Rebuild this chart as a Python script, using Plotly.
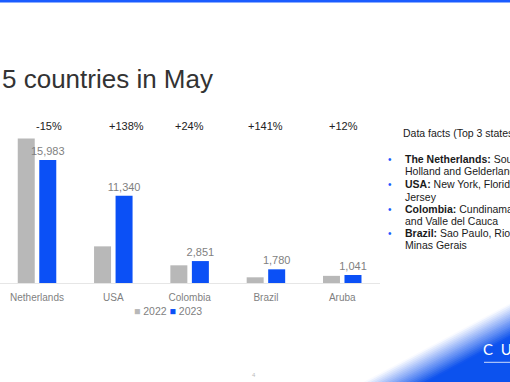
import numpy as np
import plotly.graph_objects as go

W, H = 510, 382

# ---- data ----
countries = ["Netherlands", "USA", "Colombia", "Brazil", "Aruba"]
v2022 = [18800, 4765, 2300, 740, 930]
v2023 = [15983, 11340, 2851, 1780, 1041]
changes = ["-15%", "+138%", "+24%", "+141%", "+12%"]
series_names = ["2022", "2023"]
title_text = "5 countries in May"
facts_title = "Data facts (Top 3 states)"
fact_heads = ["The Netherlands:", "USA:", "Colombia:", "Brazil:"]
fact_line1 = [" South", " New York, Florida and New", " Cundinamarca, Antioquia", " Sao Paulo, Rio de Janeiro and"]
fact_line2 = ["Holland and Gelderland", "Jersey", "and Valle del Cauca", "Minas Gerais"]
brand_text = "C&nbsp;&nbsp;U"
page_no = "4"

# ---- styles ----
GRAY = "#B8B8B8"
BLUE = "#0B50F6"
CORNER_BLUE = "#1257F6"
LABEL = "#7F7F7F"
FONT = "Liberation Sans, Arial, sans-serif"


def fx(px):
    return px / W


def fy(py):
    return 1 - py / H


fig = go.Figure()
fig.add_trace(go.Bar(x=countries, y=v2022, name=series_names[0], marker_color=GRAY,
                     marker_line_width=0, showlegend=False))
fig.add_trace(go.Bar(x=countries, y=v2023, name=series_names[1], marker_color=BLUE,
                     marker_line_width=0, showlegend=False,
                     text=[f"{v:,}" for v in v2023], textposition="outside",
                     textfont=dict(size=11, color=LABEL, family=FONT),
                     constraintext="none", cliponaxis=False))

shapes = []
annotations = []

# top blue bar
shapes.append(dict(type="rect", xref="paper", yref="paper", x0=0, x1=1, y0=fy(2.5), y1=1,
                   fillcolor="#1A5CFF", line_width=0, layer="above"))

# bottom-right blue diagonal with soft (linear) fade
p0 = np.array([427.0, 382.0])
p1 = np.array([510.0, 337.5])
d = p1 - p0
n = np.array([d[1], -d[0]]) / np.linalg.norm(d)
if n[1] > 0:
    n = -n  # toward upper-left (white)


def corner_path(t):
    a = p0 + n * t
    tb = (H + 5 - a[1]) / d[1]
    bx = a[0] + d[0] * tb
    tr = (W + 5 - a[0]) / d[0]
    ry = a[1] + d[1] * tr
    pts = [(bx, H + 5), (W + 5, ry), (W + 5, H + 5)]
    return "M " + " L ".join(f"{fx(x):.5f},{fy(y):.5f}" for x, y in pts) + " Z"


shapes.append(dict(type="path", xref="paper", yref="paper", path=corner_path(0),
                   fillcolor=CORNER_BLUE, opacity=1.0, line_width=0, layer="below"))
N, T = 18, 30.0
for k in range(1, N + 1):
    if k < N:
        op = 1 - (k - 0.5) / (k + 0.5)
    else:
        op = 0.5 / N
    shapes.append(dict(type="path", xref="paper", yref="paper", path=corner_path(k * T / N),
                       fillcolor=CORNER_BLUE, opacity=op, line_width=0, layer="below"))

# brand underline
shapes.append(dict(type="line", xref="paper", yref="paper", x0=fx(484), x1=1.02,
                   y0=fy(362.3), y1=fy(362.3), line=dict(color="rgba(255,255,255,0.8)", width=1)))

# title
annotations.append(dict(text=title_text, xref="paper", yref="paper", x=fx(0), y=fy(79),
                        xanchor="left", yanchor="middle", showarrow=False,
                        font=dict(size=26, color="#333333", family=FONT)))

# percent changes
pct_shift = [12, 13, 0, 0, 1]
for i, c in enumerate(countries):
    annotations.append(dict(text=changes[i], x=c, xref="x", y=fy(126), yref="paper",
                            xshift=pct_shift[i], showarrow=False, xanchor="center", yanchor="middle",
                            font=dict(size=11, color="#222222", family=FONT)))

# legend (drawn as text)
leg = (f"<span style='color:{GRAY}'>■</span> {series_names[0]} "
       f"<span style='color:{BLUE}'>■</span> {series_names[1]}")
annotations.append(dict(text=leg, xref="paper", yref="paper", x=fx(168), y=fy(310.7),
                        xanchor="center", yanchor="middle", showarrow=False,
                        font=dict(size=10.5, color=LABEL, family=FONT)))

# data facts panel
annotations.append(dict(text=facts_title, xref="paper", yref="paper", x=fx(400.5), y=fy(133),
                        xanchor="left", yanchor="middle", showarrow=False,
                        font=dict(size=10.5, color="#1A1A1A", family=FONT)))
line_y = [(159, 170.7), (184, 196.5), (209, 220.5), (233.3, 245)]
for i in range(len(fact_heads)):
    y1, y2 = line_y[i]
    annotations.append(dict(text="•", xref="paper", yref="paper", x=fx(390), y=fy(y1),
                            xanchor="center", yanchor="middle", showarrow=False,
                            font=dict(size=10, color="#1A5CFF", family=FONT)))
    annotations.append(dict(text=f"<b>{fact_heads[i]}</b>{fact_line1[i]}", xref="paper", yref="paper",
                            x=fx(402.5), y=fy(y1), xanchor="left", yanchor="middle", showarrow=False,
                            font=dict(size=10.5, color="#1A1A1A", family=FONT)))
    annotations.append(dict(text=fact_line2[i], xref="paper", yref="paper",
                            x=fx(402.5), y=fy(y2), xanchor="left", yanchor="middle", showarrow=False,
                            font=dict(size=10.5, color="#1A1A1A", family=FONT)))

# brand text
annotations.append(dict(text=brand_text, xref="paper", yref="paper", x=fx(481), y=fy(349),
                        xanchor="left", yanchor="middle", showarrow=False,
                        font=dict(size=15, color="white", family="Lato, " + FONT)))

# page number
annotations.append(dict(text=page_no, xref="paper", yref="paper", x=fx(254), y=fy(375),
                        xanchor="center", yanchor="middle", showarrow=False,
                        font=dict(size=6, color="#BBBBBB", family=FONT)))

fig.update_layout(
    width=W, height=H,
    margin=dict(l=0, r=0, t=0, b=0, pad=0),
    paper_bgcolor="white", plot_bgcolor="rgba(0,0,0,0)",
    barmode="group", bargap=0.436, bargroupgap=0.21,
    showlegend=False,
    xaxis=dict(type="category", domain=[0, fx(380)], range=[-0.485, 4.495],
               showline=True, linecolor="#E6E6E6", linewidth=1, showgrid=False,
               ticks="", zeroline=False, fixedrange=True, ticklabelstandoff=5,
               tickfont=dict(size=10, color=LABEL, family=FONT)),
    yaxis=dict(visible=False, range=[0, 22490], domain=[fy(283), fy(110)], fixedrange=True),
    shapes=shapes,
    annotations=annotations,
)

fig.write_html("out.html")
